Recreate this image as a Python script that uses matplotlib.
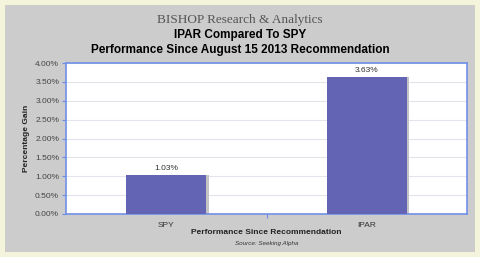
import matplotlib.pyplot as plt
from matplotlib.patches import Rectangle
import matplotlib.ticker as mtick

# data
categories = ["SPY", "IPAR"]
gains = [1.03, 3.63]
value_labels = ["1.03%", "3.63%"]

fig = plt.figure(figsize=(4.8, 2.57), dpi=100)
fig.patch.set_facecolor("#f4f3dc")
# grey panel inside light border
fig.patches.append(Rectangle((5 / 480, 5 / 257), 470 / 480, 247 / 257,
                             transform=fig.transFigure, facecolor="#cccccc",
                             edgecolor="none", zorder=-5))

ax = fig.add_axes([66 / 480, 1 - 214 / 257, 401 / 480, 151 / 257])
ax.set_zorder(2)
ax.set_facecolor("white")
x = list(range(len(categories)))

# bar shadows then bars
ax.bar([i + 0.012 for i in x], gains, width=0.4, color="#c4c4c4", zorder=2)
ax.bar(x, gains, width=0.4, color="#6464b4", zorder=3)
for i, v in enumerate(gains):
    ax.text(i, v + 0.07, value_labels[i], ha="center", va="bottom",
            fontsize=6, color="#333333", family="Liberation Sans")

ax.set_xlim(-0.5, 1.5)
ax.set_ylim(0, 4)
ax.set_yticks([0, 0.5, 1, 1.5, 2, 2.5, 3, 3.5, 4])
ax.yaxis.set_major_formatter(mtick.FuncFormatter(lambda v, p: "%.2f%%" % v))
ax.set_xticks([0.5])
ax.set_xticklabels([""])
ax.tick_params(axis="x", length=3, color="#6a8ae6", width=0.8)
ax.tick_params(axis="y", length=3, color="#6a8ae6", width=0.8, labelsize=6,
               labelcolor="#444444", pad=2)
for lab in ax.get_yticklabels():
    lab.set_family("Liberation Sans")
for i, c in enumerate(categories):
    ax.text(i, -0.2, c, ha="center", va="top", fontsize=6, color="#333333",
            family="Liberation Sans")
ax.grid(axis="y", color="#e4e4ec", linewidth=0.8, zorder=1)
ax.set_axisbelow(True)
for s in ax.spines.values():
    s.set_color("#7090e8")
    s.set_linewidth(1.2)

ax.set_ylabel("Percentage Gain", fontsize=6, fontweight="bold", color="#222222",
              family="Liberation Sans", labelpad=4)

fig.text(0.5, 1 - 20 / 257, "BISHOP Research & Analytics", ha="center", va="center",
         fontsize=9.5, color="#555555", family="Liberation Serif")
fig.text(0.5, 1 - 35 / 257, "IPAR Compared To SPY", ha="center", va="center",
         fontsize=8.5, fontweight="bold", color="black", family="Liberation Sans")
fig.text(0.5, 1 - 50 / 257, "Performance Since August 15 2013 Recommendation", ha="center",
         va="center", fontsize=8.5, fontweight="bold", color="black", family="Liberation Sans")
fig.text(0.5 * (66 + 467) / 480, 1 - 233 / 257, "Performance Since Recommendation",
         ha="center", va="center", fontsize=6, fontweight="bold", color="#222222",
         family="Liberation Sans")
fig.text(0.5 * (66 + 467) / 480, 1 - 243 / 257, "Source: Seeking Alpha", ha="center",
         va="center", fontsize=4.5, style="italic", color="#333333", family="Liberation Sans")

fig.savefig("out.png", dpi=100, facecolor=fig.get_facecolor())
